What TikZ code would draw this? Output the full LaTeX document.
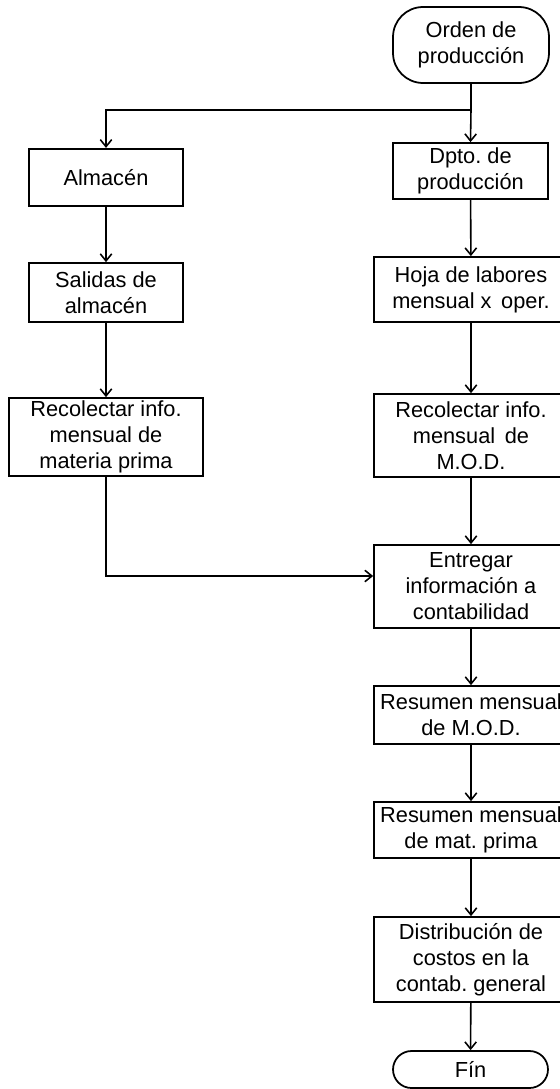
\documentclass[tikz,border=0pt]{standalone}
\usepackage{fontspec}
\setmainfont{Liberation Sans}
\usetikzlibrary{positioning,arrows.meta}
\frenchspacing

\begin{document}
\begin{tikzpicture}[x=0.02cm,y=-0.02cm,>={Straight Barb[length=4pt,width=6.5pt]},
  box/.style={draw,line width=1pt,align=center,inner sep=0pt,font=\fontsize{12.4}{14.8}\selectfont},
  term/.style={box,rounded corners=#1},
  flow/.style={->,line width=0.9pt}]
\useasboundingbox (0,0) rectangle (560,1089);
% inicio
\node[term=0.6cm,minimum width=3.12cm,minimum height=1.52cm] (orden) at (471,45) {Orden de\\producción};
% columna izquierda
\node[box,minimum width=3.08cm,minimum height=1.15cm] (alm) at (106,177.5) {Almacén};
\node[box,minimum width=3.08cm,minimum height=1.18cm] (sal) at (106,292.5) {Salidas de\\almacén};
\node[box,minimum width=3.88cm,minimum height=1.56cm] (recl) at (106,437) {Recolectar info.\\mensual de\\materia prima};
% columna derecha
\node[box,minimum width=3.1cm,minimum height=1.12cm] (dpto) at (470.5,171) {Dpto. de\\producción};
\node[box,minimum width=3.88cm,minimum height=1.3cm] (hoja) at (471,289.5) {Hoja de labores\\mensual x\, oper.};
\node[box,minimum width=3.88cm,minimum height=1.66cm] (recr) at (471,435.5) {Recolectar info.\\mensual\, de\\M.O.D.};
\node[box,minimum width=3.88cm,minimum height=1.66cm] (entr) at (471,586.5) {Entregar\\información a\\contabilidad};
\node[box,minimum width=3.88cm,minimum height=1.16cm] (rmod) at (471,715) {Resumen mensual\\de M.O.D.};
\node[box,minimum width=3.88cm,minimum height=1.12cm] (rmat) at (471,830) {Resumen mensual\\de mat. prima};
\node[box,minimum width=3.88cm,minimum height=1.7cm] (dist) at (471,959.5) {Distribución de\\costos en la\\contab. general};
\node[term=0.37cm,minimum width=3.1cm,minimum height=0.74cm] (fin) at (470.5,1069.5) {Fín};
% conexiones
\coordinate (j) at (471,110);
\coordinate (c) at (106,576);
\draw[line width=0.9pt] (orden.south) -- (j);
\draw[flow] (j) -- (dpto.north);
\draw[flow] (j) -| (alm.north);
\draw[flow] (alm) -- (sal);
\draw[flow] (sal) -- (recl);
\draw[flow] (recl.south) -- (c) -- (c -| entr.west);
\draw[flow] (dpto) -- (hoja);
\draw[flow] (hoja) -- (recr);
\draw[flow] (recr) -- (entr);
\draw[flow] (entr) -- (rmod);
\draw[flow] (rmod) -- (rmat);
\draw[flow] (rmat) -- (dist);
\draw[flow] (dist) -- (fin);
\end{tikzpicture}
\end{document}
